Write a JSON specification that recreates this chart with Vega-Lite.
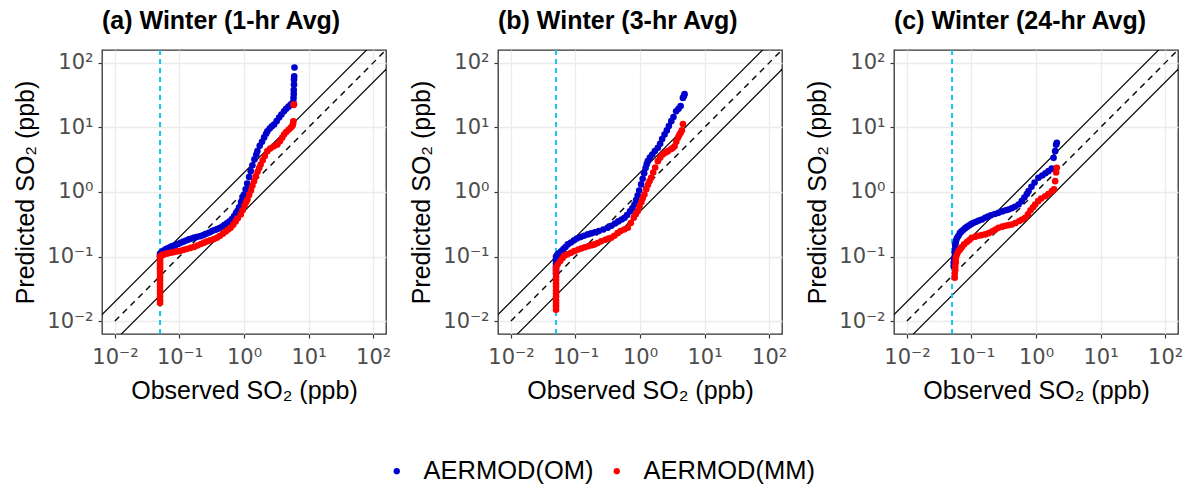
{
"$schema": "https://vega.github.io/schema/vega-lite/v6.json",
"padding": {"left": 13, "top": 8, "right": 5, "bottom": 5},
"spacing": 112,
"bounds": "flush",
"datasets": {
"ref": [
{"k":"one","x":0.01,"y":0.01},{"k":"one","x":200,"y":200},
{"k":"up","x":0.001,"y":0.002},{"k":"up","x":1000,"y":2000},
{"k":"lo","x":0.002,"y":0.001},{"k":"lo","x":2000,"y":1000}
],
"cut": [{"x":0.05}],
"pts": [
{"p":"a","s":"OM","x":0.05,"y":0.1},{"p":"a","s":"OM","x":0.05,"y":0.105},{"p":"a","s":"OM","x":0.05,"y":0.11},
{"p":"a","s":"OM","x":0.052,"y":0.115},{"p":"a","s":"OM","x":0.055,"y":0.12},{"p":"a","s":"OM","x":0.058,"y":0.125},{"p":"a","s":"OM","x":0.062,"y":0.13},{"p":"a","s":"OM","x":0.066,"y":0.134},{"p":"a","s":"OM","x":0.07,"y":0.138},{"p":"a","s":"OM","x":0.075,"y":0.142},{"p":"a","s":"OM","x":0.08,"y":0.146},{"p":"a","s":"OM","x":0.087,"y":0.151},{"p":"a","s":"OM","x":0.095,"y":0.156},{"p":"a","s":"OM","x":0.104,"y":0.163},{"p":"a","s":"OM","x":0.115,"y":0.17},{"p":"a","s":"OM","x":0.127,"y":0.177},{"p":"a","s":"OM","x":0.14,"y":0.184},{"p":"a","s":"OM","x":0.155,"y":0.19},{"p":"a","s":"OM","x":0.17,"y":0.196},{"p":"a","s":"OM","x":0.19,"y":0.202},{"p":"a","s":"OM","x":0.213,"y":0.207},{"p":"a","s":"OM","x":0.235,"y":0.215},{"p":"a","s":"OM","x":0.26,"y":0.225},{"p":"a","s":"OM","x":0.29,"y":0.236},{"p":"a","s":"OM","x":0.32,"y":0.248},{"p":"a","s":"OM","x":0.35,"y":0.258},{"p":"a","s":"OM","x":0.386,"y":0.266},{"p":"a","s":"OM","x":0.42,"y":0.277},{"p":"a","s":"OM","x":0.46,"y":0.29},{"p":"a","s":"OM","x":0.5,"y":0.31},{"p":"a","s":"OM","x":0.55,"y":0.33},{"p":"a","s":"OM","x":0.6,"y":0.35},{"p":"a","s":"OM","x":0.65,"y":0.38},{"p":"a","s":"OM","x":0.7,"y":0.42},{"p":"a","s":"OM","x":0.75,"y":0.47},{"p":"a","s":"OM","x":0.79,"y":0.505},{"p":"a","s":"OM","x":0.84,"y":0.58},{"p":"a","s":"OM","x":0.9,"y":0.7},{"p":"a","s":"OM","x":0.95,"y":0.8},{"p":"a","s":"OM","x":1.0,"y":0.91},{"p":"a","s":"OM","x":1.06,"y":1.1},{"p":"a","s":"OM","x":1.12,"y":1.35},{"p":"a","s":"OM","x":1.2,"y":1.7},{"p":"a","s":"OM","x":1.27,"y":2.1},{"p":"a","s":"OM","x":1.35,"y":2.6},{"p":"a","s":"OM","x":1.45,"y":3.2},{"p":"a","s":"OM","x":1.55,"y":3.8},{"p":"a","s":"OM","x":1.61,"y":4.3},{"p":"a","s":"OM","x":1.75,"y":5.2},{"p":"a","s":"OM","x":1.9,"y":6.0},{"p":"a","s":"OM","x":2.05,"y":7.0},{"p":"a","s":"OM","x":2.2,"y":8.0},{"p":"a","s":"OM","x":2.3,"y":8.7},{"p":"a","s":"OM","x":2.5,"y":9.6},{"p":"a","s":"OM","x":2.7,"y":10.4},{"p":"a","s":"OM","x":2.92,"y":11.1},{"p":"a","s":"OM","x":3.2,"y":12.5},{"p":"a","s":"OM","x":3.5,"y":14.2},{"p":"a","s":"OM","x":3.8,"y":15.8},{"p":"a","s":"OM","x":4.17,"y":17.8},{"p":"a","s":"OM","x":4.5,"y":19.5},{"p":"a","s":"OM","x":4.9,"y":21},{"p":"a","s":"OM","x":5.28,"y":22.6},{"p":"a","s":"OM","x":5.6,"y":23.5},{"p":"a","s":"OM","x":5.8,"y":25},{"p":"a","s":"OM","x":5.85,"y":28.7},{"p":"a","s":"OM","x":5.9,"y":33},{"p":"a","s":"OM","x":5.9,"y":38},{"p":"a","s":"OM","x":5.95,"y":46},{"p":"a","s":"OM","x":5.95,"y":55},{"p":"a","s":"OM","x":6.0,"y":62},{"p":"a","s":"OM","x":6.05,"y":85},
{"p":"a","s":"MM","x":0.05,"y":0.019},{"p":"a","s":"MM","x":0.05,"y":0.021},{"p":"a","s":"MM","x":0.05,"y":0.024},{"p":"a","s":"MM","x":0.05,"y":0.027},{"p":"a","s":"MM","x":0.05,"y":0.03},{"p":"a","s":"MM","x":0.05,"y":0.034},{"p":"a","s":"MM","x":0.05,"y":0.038},{"p":"a","s":"MM","x":0.05,"y":0.043},{"p":"a","s":"MM","x":0.05,"y":0.048},{"p":"a","s":"MM","x":0.05,"y":0.054},{"p":"a","s":"MM","x":0.05,"y":0.06},{"p":"a","s":"MM","x":0.05,"y":0.066},{"p":"a","s":"MM","x":0.05,"y":0.072},{"p":"a","s":"MM","x":0.05,"y":0.078},{"p":"a","s":"MM","x":0.05,"y":0.085},{"p":"a","s":"MM","x":0.05,"y":0.092},{"p":"a","s":"MM","x":0.05,"y":0.1},
{"p":"a","s":"MM","x":0.052,"y":0.103},{"p":"a","s":"MM","x":0.055,"y":0.106},{"p":"a","s":"MM","x":0.06,"y":0.109},{"p":"a","s":"MM","x":0.066,"y":0.112},{"p":"a","s":"MM","x":0.074,"y":0.115},{"p":"a","s":"MM","x":0.082,"y":0.117},{"p":"a","s":"MM","x":0.092,"y":0.12},{"p":"a","s":"MM","x":0.104,"y":0.123},{"p":"a","s":"MM","x":0.117,"y":0.127},{"p":"a","s":"MM","x":0.13,"y":0.131},{"p":"a","s":"MM","x":0.148,"y":0.136},{"p":"a","s":"MM","x":0.168,"y":0.141},{"p":"a","s":"MM","x":0.19,"y":0.148},{"p":"a","s":"MM","x":0.215,"y":0.156},{"p":"a","s":"MM","x":0.24,"y":0.164},{"p":"a","s":"MM","x":0.27,"y":0.172},{"p":"a","s":"MM","x":0.3,"y":0.178},{"p":"a","s":"MM","x":0.343,"y":0.186},{"p":"a","s":"MM","x":0.38,"y":0.195},{"p":"a","s":"MM","x":0.42,"y":0.208},{"p":"a","s":"MM","x":0.47,"y":0.225},{"p":"a","s":"MM","x":0.52,"y":0.245},{"p":"a","s":"MM","x":0.57,"y":0.262},{"p":"a","s":"MM","x":0.62,"y":0.279},{"p":"a","s":"MM","x":0.68,"y":0.31},{"p":"a","s":"MM","x":0.74,"y":0.35},{"p":"a","s":"MM","x":0.8,"y":0.39},{"p":"a","s":"MM","x":0.89,"y":0.449},{"p":"a","s":"MM","x":0.95,"y":0.52},{"p":"a","s":"MM","x":1.02,"y":0.62},{"p":"a","s":"MM","x":1.08,"y":0.7},{"p":"a","s":"MM","x":1.13,"y":0.766},{"p":"a","s":"MM","x":1.2,"y":0.9},{"p":"a","s":"MM","x":1.28,"y":1.05},{"p":"a","s":"MM","x":1.35,"y":1.25},{"p":"a","s":"MM","x":1.43,"y":1.47},{"p":"a","s":"MM","x":1.52,"y":1.75},{"p":"a","s":"MM","x":1.62,"y":2.05},{"p":"a","s":"MM","x":1.72,"y":2.35},{"p":"a","s":"MM","x":1.81,"y":2.67},{"p":"a","s":"MM","x":1.95,"y":3.1},{"p":"a","s":"MM","x":2.1,"y":3.6},{"p":"a","s":"MM","x":2.3,"y":4.29},{"p":"a","s":"MM","x":2.55,"y":4.7},{"p":"a","s":"MM","x":2.9,"y":5.1},{"p":"a","s":"MM","x":3.29,"y":5.43},{"p":"a","s":"MM","x":3.6,"y":6.1},{"p":"a","s":"MM","x":3.9,"y":6.9},{"p":"a","s":"MM","x":4.17,"y":7.76},{"p":"a","s":"MM","x":4.5,"y":8.5},{"p":"a","s":"MM","x":4.9,"y":9.2},{"p":"a","s":"MM","x":5.28,"y":9.86},{"p":"a","s":"MM","x":5.6,"y":10.5},{"p":"a","s":"MM","x":5.75,"y":11.3},{"p":"a","s":"MM","x":5.8,"y":12.4},{"p":"a","s":"MM","x":5.85,"y":22.3},{"p":"a","s":"MM","x":5.95,"y":22.8},
{"p":"b","s":"OM","x":0.05,"y":0.055},{"p":"b","s":"OM","x":0.05,"y":0.06},{"p":"b","s":"OM","x":0.05,"y":0.066},{"p":"b","s":"OM","x":0.05,"y":0.072},{"p":"b","s":"OM","x":0.05,"y":0.078},{"p":"b","s":"OM","x":0.05,"y":0.085},{"p":"b","s":"OM","x":0.05,"y":0.092},{"p":"b","s":"OM","x":0.05,"y":0.1},
{"p":"b","s":"OM","x":0.052,"y":0.105},{"p":"b","s":"OM","x":0.055,"y":0.112},{"p":"b","s":"OM","x":0.06,"y":0.12},{"p":"b","s":"OM","x":0.065,"y":0.13},{"p":"b","s":"OM","x":0.07,"y":0.14},{"p":"b","s":"OM","x":0.076,"y":0.154},{"p":"b","s":"OM","x":0.085,"y":0.165},{"p":"b","s":"OM","x":0.095,"y":0.178},{"p":"b","s":"OM","x":0.105,"y":0.19},{"p":"b","s":"OM","x":0.12,"y":0.2},{"p":"b","s":"OM","x":0.135,"y":0.21},{"p":"b","s":"OM","x":0.155,"y":0.22},{"p":"b","s":"OM","x":0.175,"y":0.228},{"p":"b","s":"OM","x":0.2,"y":0.237},{"p":"b","s":"OM","x":0.23,"y":0.248},{"p":"b","s":"OM","x":0.27,"y":0.262},{"p":"b","s":"OM","x":0.316,"y":0.279},{"p":"b","s":"OM","x":0.36,"y":0.3},{"p":"b","s":"OM","x":0.41,"y":0.325},{"p":"b","s":"OM","x":0.46,"y":0.35},{"p":"b","s":"OM","x":0.52,"y":0.375},{"p":"b","s":"OM","x":0.575,"y":0.398},{"p":"b","s":"OM","x":0.63,"y":0.44},{"p":"b","s":"OM","x":0.7,"y":0.5},{"p":"b","s":"OM","x":0.76,"y":0.56},{"p":"b","s":"OM","x":0.82,"y":0.64},{"p":"b","s":"OM","x":0.87,"y":0.75},{"p":"b","s":"OM","x":0.92,"y":0.88},{"p":"b","s":"OM","x":0.97,"y":1.05},{"p":"b","s":"OM","x":1.04,"y":1.31},{"p":"b","s":"OM","x":1.1,"y":1.6},{"p":"b","s":"OM","x":1.16,"y":1.95},{"p":"b","s":"OM","x":1.22,"y":2.35},{"p":"b","s":"OM","x":1.27,"y":2.7},{"p":"b","s":"OM","x":1.32,"y":3.0},{"p":"b","s":"OM","x":1.42,"y":3.4},{"p":"b","s":"OM","x":1.55,"y":3.8},{"p":"b","s":"OM","x":1.7,"y":4.3},{"p":"b","s":"OM","x":1.89,"y":4.83},{"p":"b","s":"OM","x":2.05,"y":5.6},{"p":"b","s":"OM","x":2.2,"y":6.6},{"p":"b","s":"OM","x":2.4,"y":7.76},{"p":"b","s":"OM","x":2.6,"y":9.0},{"p":"b","s":"OM","x":2.8,"y":10.5},{"p":"b","s":"OM","x":3.05,"y":12.5},{"p":"b","s":"OM","x":3.3,"y":14.5},{"p":"b","s":"OM","x":3.63,"y":17.8},{"p":"b","s":"OM","x":3.95,"y":19.5},{"p":"b","s":"OM","x":4.26,"y":21.4},{"p":"b","s":"OM","x":4.62,"y":28.7},{"p":"b","s":"OM","x":4.8,"y":31},{"p":"b","s":"OM","x":4.9,"y":33},
{"p":"b","s":"MM","x":0.05,"y":0.015},{"p":"b","s":"MM","x":0.05,"y":0.017},{"p":"b","s":"MM","x":0.05,"y":0.019},{"p":"b","s":"MM","x":0.05,"y":0.021},{"p":"b","s":"MM","x":0.05,"y":0.024},{"p":"b","s":"MM","x":0.05,"y":0.027},{"p":"b","s":"MM","x":0.05,"y":0.03},{"p":"b","s":"MM","x":0.05,"y":0.034},{"p":"b","s":"MM","x":0.05,"y":0.038},{"p":"b","s":"MM","x":0.05,"y":0.043},{"p":"b","s":"MM","x":0.05,"y":0.048},{"p":"b","s":"MM","x":0.05,"y":0.054},{"p":"b","s":"MM","x":0.05,"y":0.06},{"p":"b","s":"MM","x":0.05,"y":0.068},
{"p":"b","s":"MM","x":0.053,"y":0.076},{"p":"b","s":"MM","x":0.058,"y":0.085},{"p":"b","s":"MM","x":0.063,"y":0.095},{"p":"b","s":"MM","x":0.067,"y":0.103},{"p":"b","s":"MM","x":0.075,"y":0.108},{"p":"b","s":"MM","x":0.085,"y":0.114},{"p":"b","s":"MM","x":0.096,"y":0.121},{"p":"b","s":"MM","x":0.11,"y":0.128},{"p":"b","s":"MM","x":0.125,"y":0.134},{"p":"b","s":"MM","x":0.14,"y":0.139},{"p":"b","s":"MM","x":0.16,"y":0.145},{"p":"b","s":"MM","x":0.18,"y":0.15},{"p":"b","s":"MM","x":0.197,"y":0.154},{"p":"b","s":"MM","x":0.22,"y":0.162},{"p":"b","s":"MM","x":0.25,"y":0.172},{"p":"b","s":"MM","x":0.29,"y":0.182},{"p":"b","s":"MM","x":0.325,"y":0.19},{"p":"b","s":"MM","x":0.357,"y":0.195},{"p":"b","s":"MM","x":0.4,"y":0.21},{"p":"b","s":"MM","x":0.45,"y":0.23},{"p":"b","s":"MM","x":0.5,"y":0.248},{"p":"b","s":"MM","x":0.57,"y":0.262},{"p":"b","s":"MM","x":0.647,"y":0.279},{"p":"b","s":"MM","x":0.72,"y":0.33},{"p":"b","s":"MM","x":0.8,"y":0.4},{"p":"b","s":"MM","x":0.86,"y":0.45},{"p":"b","s":"MM","x":0.92,"y":0.505},{"p":"b","s":"MM","x":0.98,"y":0.6},{"p":"b","s":"MM","x":1.05,"y":0.7},{"p":"b","s":"MM","x":1.1,"y":0.8},{"p":"b","s":"MM","x":1.17,"y":0.91},{"p":"b","s":"MM","x":1.25,"y":1.1},{"p":"b","s":"MM","x":1.33,"y":1.3},{"p":"b","s":"MM","x":1.41,"y":1.48},{"p":"b","s":"MM","x":1.49,"y":1.66},{"p":"b","s":"MM","x":1.6,"y":2.0},{"p":"b","s":"MM","x":1.72,"y":2.4},{"p":"b","s":"MM","x":1.89,"y":3.0},{"p":"b","s":"MM","x":2.05,"y":3.4},{"p":"b","s":"MM","x":2.25,"y":3.8},{"p":"b","s":"MM","x":2.5,"y":4.1},{"p":"b","s":"MM","x":2.7,"y":4.29},{"p":"b","s":"MM","x":3.0,"y":4.6},{"p":"b","s":"MM","x":3.2,"y":4.8},{"p":"b","s":"MM","x":3.43,"y":5.1},{"p":"b","s":"MM","x":3.65,"y":6.0},{"p":"b","s":"MM","x":3.87,"y":6.9},{"p":"b","s":"MM","x":4.05,"y":7.6},{"p":"b","s":"MM","x":4.26,"y":8.25},{"p":"b","s":"MM","x":4.45,"y":9.0},{"p":"b","s":"MM","x":4.62,"y":11.3},
{"p":"c","s":"OM","x":0.053,"y":0.07},{"p":"c","s":"OM","x":0.053,"y":0.08},{"p":"c","s":"OM","x":0.054,"y":0.09},{"p":"c","s":"OM","x":0.055,"y":0.1},{"p":"c","s":"OM","x":0.055,"y":0.115},{"p":"c","s":"OM","x":0.056,"y":0.13},{"p":"c","s":"OM","x":0.056,"y":0.15},{"p":"c","s":"OM","x":0.057,"y":0.165},{"p":"c","s":"OM","x":0.058,"y":0.18},{"p":"c","s":"OM","x":0.06,"y":0.195},{"p":"c","s":"OM","x":0.063,"y":0.21},{"p":"c","s":"OM","x":0.066,"y":0.23},{"p":"c","s":"OM","x":0.07,"y":0.245},{"p":"c","s":"OM","x":0.075,"y":0.26},{"p":"c","s":"OM","x":0.08,"y":0.275},{"p":"c","s":"OM","x":0.086,"y":0.29},{"p":"c","s":"OM","x":0.093,"y":0.305},{"p":"c","s":"OM","x":0.1,"y":0.32},{"p":"c","s":"OM","x":0.108,"y":0.333},{"p":"c","s":"OM","x":0.118,"y":0.345},{"p":"c","s":"OM","x":0.13,"y":0.36},{"p":"c","s":"OM","x":0.145,"y":0.375},{"p":"c","s":"OM","x":0.163,"y":0.398},{"p":"c","s":"OM","x":0.18,"y":0.415},{"p":"c","s":"OM","x":0.2,"y":0.435},{"p":"c","s":"OM","x":0.23,"y":0.455},{"p":"c","s":"OM","x":0.262,"y":0.475},{"p":"c","s":"OM","x":0.3,"y":0.5},{"p":"c","s":"OM","x":0.34,"y":0.52},{"p":"c","s":"OM","x":0.375,"y":0.535},{"p":"c","s":"OM","x":0.42,"y":0.56},{"p":"c","s":"OM","x":0.47,"y":0.59},{"p":"c","s":"OM","x":0.535,"y":0.64},{"p":"c","s":"OM","x":0.6,"y":0.72},{"p":"c","s":"OM","x":0.66,"y":0.82},{"p":"c","s":"OM","x":0.72,"y":0.93},{"p":"c","s":"OM","x":0.766,"y":1.03},{"p":"c","s":"OM","x":0.85,"y":1.2},{"p":"c","s":"OM","x":0.95,"y":1.4},{"p":"c","s":"OM","x":1.09,"y":1.66},{"p":"c","s":"OM","x":1.25,"y":1.8},{"p":"c","s":"OM","x":1.4,"y":1.95},{"p":"c","s":"OM","x":1.56,"y":2.1},{"p":"c","s":"OM","x":1.75,"y":2.3},{"p":"c","s":"OM","x":1.87,"y":3.38},{"p":"c","s":"OM","x":1.98,"y":4.29},{"p":"c","s":"OM","x":2.05,"y":5.4},{"p":"c","s":"OM","x":2.1,"y":5.77},
{"p":"c","s":"MM","x":0.055,"y":0.047},{"p":"c","s":"MM","x":0.055,"y":0.055},{"p":"c","s":"MM","x":0.056,"y":0.062},{"p":"c","s":"MM","x":0.056,"y":0.07},{"p":"c","s":"MM","x":0.057,"y":0.08},{"p":"c","s":"MM","x":0.057,"y":0.09},{"p":"c","s":"MM","x":0.058,"y":0.1},{"p":"c","s":"MM","x":0.06,"y":0.11},{"p":"c","s":"MM","x":0.063,"y":0.121},{"p":"c","s":"MM","x":0.067,"y":0.13},{"p":"c","s":"MM","x":0.071,"y":0.14},{"p":"c","s":"MM","x":0.077,"y":0.154},{"p":"c","s":"MM","x":0.085,"y":0.168},{"p":"c","s":"MM","x":0.093,"y":0.18},{"p":"c","s":"MM","x":0.101,"y":0.195},{"p":"c","s":"MM","x":0.115,"y":0.203},{"p":"c","s":"MM","x":0.13,"y":0.21},{"p":"c","s":"MM","x":0.145,"y":0.215},{"p":"c","s":"MM","x":0.163,"y":0.22},{"p":"c","s":"MM","x":0.185,"y":0.23},{"p":"c","s":"MM","x":0.21,"y":0.245},{"p":"c","s":"MM","x":0.235,"y":0.262},{"p":"c","s":"MM","x":0.262,"y":0.279},{"p":"c","s":"MM","x":0.3,"y":0.29},{"p":"c","s":"MM","x":0.34,"y":0.3},{"p":"c","s":"MM","x":0.38,"y":0.307},{"p":"c","s":"MM","x":0.423,"y":0.314},{"p":"c","s":"MM","x":0.48,"y":0.33},{"p":"c","s":"MM","x":0.55,"y":0.355},{"p":"c","s":"MM","x":0.61,"y":0.375},{"p":"c","s":"MM","x":0.68,"y":0.398},{"p":"c","s":"MM","x":0.75,"y":0.45},{"p":"c","s":"MM","x":0.82,"y":0.52},{"p":"c","s":"MM","x":0.9,"y":0.58},{"p":"c","s":"MM","x":0.97,"y":0.64},{"p":"c","s":"MM","x":1.08,"y":0.72},{"p":"c","s":"MM","x":1.2,"y":0.79},{"p":"c","s":"MM","x":1.39,"y":0.86},{"p":"c","s":"MM","x":1.55,"y":0.93},{"p":"c","s":"MM","x":1.76,"y":1.03},{"p":"c","s":"MM","x":1.9,"y":1.1},{"p":"c","s":"MM","x":1.98,"y":1.47},{"p":"c","s":"MM","x":2.05,"y":2.0},{"p":"c","s":"MM","x":2.1,"y":2.37}
]
},
"config": {
"font": "Liberation Sans",
"view": {"stroke": "#333333", "strokeWidth": 1.3},
"axis": {"domain": false, "grid": true, "gridColor": "#EBEBEB", "gridWidth": 1.3, "tickColor": "#333333", "tickSize": 4, "tickWidth": 1.2, "labelFont": "DejaVu Sans", "labelFontSize": 21, "labelColor": "#4D4D4D", "titleFontSize": 25, "titleFontWeight": "normal", "titleColor": "#000000", "labelFlush": false, "labelOverlap": false, "labelPadding": 5},
"axisX": {"titlePadding": 11, "labelPadding": 8},
"axisY": {"titlePadding": 8},
"title": {"fontSize": 25, "fontWeight": "bold", "anchor": "start", "frame": "group", "color": "#000000", "offset": 15}
},
"hconcat": [
{"width": 284, "height": 284, "title": "(a) Winter (1-hr Avg)",
"layer": [
{"data": {"name": "ref"}, "transform": [{"filter": "datum.k == 'one'"}], "mark": {"type": "line", "clip": true, "color": "#000000", "strokeWidth": 1.4, "strokeDash": [6, 5]},
"encoding": {"x": {"field": "x", "type": "quantitative", "scale": {"type": "log", "domain": [0.0063, 158.5], "nice": false}, "axis": {"title": "Observed SO₂ (ppb)", "values": [0.01, 0.1, 1, 10, 100], "labelExpr": "datum.value < 0.05 ? '10⁻²' : datum.value < 0.5 ? '10⁻¹' : datum.value < 5 ? '10⁰' : datum.value < 50 ? '10¹' : '10²'"}},
"y": {"field": "y", "type": "quantitative", "scale": {"type": "log", "domain": [0.0063, 158.5], "nice": false}, "axis": {"title": "Predicted SO₂ (ppb)", "values": [0.01, 0.1, 1, 10, 100], "labelExpr": "datum.value < 0.05 ? '10⁻²' : datum.value < 0.5 ? '10⁻¹' : datum.value < 5 ? '10⁰' : datum.value < 50 ? '10¹' : '10²'"}}}},
{"data": {"name": "ref"}, "transform": [{"filter": "datum.k != 'one'"}], "mark": {"type": "line", "clip": true, "color": "#000000", "strokeWidth": 1.2},
"encoding": {"x": {"field": "x", "type": "quantitative"}, "y": {"field": "y", "type": "quantitative"}, "detail": {"field": "k"}}},
{"data": {"name": "cut"}, "mark": {"type": "rule", "color": "#10C8F0", "strokeWidth": 2, "strokeDash": [5, 4]},
"encoding": {"x": {"field": "x", "type": "quantitative"}}},
{"data": {"name": "pts"}, "transform": [{"filter": "datum.p == 'a'"}], "mark": {"type": "circle", "size": 44, "opacity": 1},
"encoding": {"x": {"field": "x", "type": "quantitative"}, "y": {"field": "y", "type": "quantitative"},
"color": {"field": "s", "type": "nominal", "scale": {"domain": ["OM", "MM"], "range": ["#0000CC", "#FF0000"]},
"legend": {"orient": "none", "legendX": 282, "legendY": 408, "direction": "horizontal", "title": null, "labelFontSize": 25.5, "labelColor": "#000000", "labelLimit": 400, "symbolType": "circle", "symbolSize": 40, "labelExpr": "'AERMOD(' + datum.label + ')'", "columnPadding": 10, "labelOffset": 14}}}}
]},
{"width": 284, "height": 284, "title": "(b) Winter (3-hr Avg)",
"layer": [
{"data": {"name": "ref"}, "transform": [{"filter": "datum.k == 'one'"}], "mark": {"type": "line", "clip": true, "color": "#000000", "strokeWidth": 1.4, "strokeDash": [6, 5]},
"encoding": {"x": {"field": "x", "type": "quantitative", "scale": {"type": "log", "domain": [0.0063, 158.5], "nice": false}, "axis": {"title": "Observed SO₂ (ppb)", "values": [0.01, 0.1, 1, 10, 100], "labelExpr": "datum.value < 0.05 ? '10⁻²' : datum.value < 0.5 ? '10⁻¹' : datum.value < 5 ? '10⁰' : datum.value < 50 ? '10¹' : '10²'"}},
"y": {"field": "y", "type": "quantitative", "scale": {"type": "log", "domain": [0.0063, 158.5], "nice": false}, "axis": {"title": "Predicted SO₂ (ppb)", "values": [0.01, 0.1, 1, 10, 100], "labelExpr": "datum.value < 0.05 ? '10⁻²' : datum.value < 0.5 ? '10⁻¹' : datum.value < 5 ? '10⁰' : datum.value < 50 ? '10¹' : '10²'"}}}},
{"data": {"name": "ref"}, "transform": [{"filter": "datum.k != 'one'"}], "mark": {"type": "line", "clip": true, "color": "#000000", "strokeWidth": 1.2},
"encoding": {"x": {"field": "x", "type": "quantitative"}, "y": {"field": "y", "type": "quantitative"}, "detail": {"field": "k"}}},
{"data": {"name": "cut"}, "mark": {"type": "rule", "color": "#10C8F0", "strokeWidth": 2, "strokeDash": [5, 4]},
"encoding": {"x": {"field": "x", "type": "quantitative"}}},
{"data": {"name": "pts"}, "transform": [{"filter": "datum.p == 'b'"}], "mark": {"type": "circle", "size": 44, "opacity": 1},
"encoding": {"x": {"field": "x", "type": "quantitative"}, "y": {"field": "y", "type": "quantitative"},
"color": {"field": "s", "type": "nominal", "scale": {"domain": ["OM", "MM"], "range": ["#0000CC", "#FF0000"]}, "legend": null}}}
]},
{"width": 284, "height": 284, "title": "(c) Winter (24-hr Avg)",
"layer": [
{"data": {"name": "ref"}, "transform": [{"filter": "datum.k == 'one'"}], "mark": {"type": "line", "clip": true, "color": "#000000", "strokeWidth": 1.4, "strokeDash": [6, 5]},
"encoding": {"x": {"field": "x", "type": "quantitative", "scale": {"type": "log", "domain": [0.0063, 158.5], "nice": false}, "axis": {"title": "Observed SO₂ (ppb)", "values": [0.01, 0.1, 1, 10, 100], "labelExpr": "datum.value < 0.05 ? '10⁻²' : datum.value < 0.5 ? '10⁻¹' : datum.value < 5 ? '10⁰' : datum.value < 50 ? '10¹' : '10²'"}},
"y": {"field": "y", "type": "quantitative", "scale": {"type": "log", "domain": [0.0063, 158.5], "nice": false}, "axis": {"title": "Predicted SO₂ (ppb)", "values": [0.01, 0.1, 1, 10, 100], "labelExpr": "datum.value < 0.05 ? '10⁻²' : datum.value < 0.5 ? '10⁻¹' : datum.value < 5 ? '10⁰' : datum.value < 50 ? '10¹' : '10²'"}}}},
{"data": {"name": "ref"}, "transform": [{"filter": "datum.k != 'one'"}], "mark": {"type": "line", "clip": true, "color": "#000000", "strokeWidth": 1.2},
"encoding": {"x": {"field": "x", "type": "quantitative"}, "y": {"field": "y", "type": "quantitative"}, "detail": {"field": "k"}}},
{"data": {"name": "cut"}, "mark": {"type": "rule", "color": "#10C8F0", "strokeWidth": 2, "strokeDash": [5, 4]},
"encoding": {"x": {"field": "x", "type": "quantitative"}}},
{"data": {"name": "pts"}, "transform": [{"filter": "datum.p == 'c'"}], "mark": {"type": "circle", "size": 44, "opacity": 1},
"encoding": {"x": {"field": "x", "type": "quantitative"}, "y": {"field": "y", "type": "quantitative"},
"color": {"field": "s", "type": "nominal", "scale": {"domain": ["OM", "MM"], "range": ["#0000CC", "#FF0000"]}, "legend": null}}}
]}
]
}
